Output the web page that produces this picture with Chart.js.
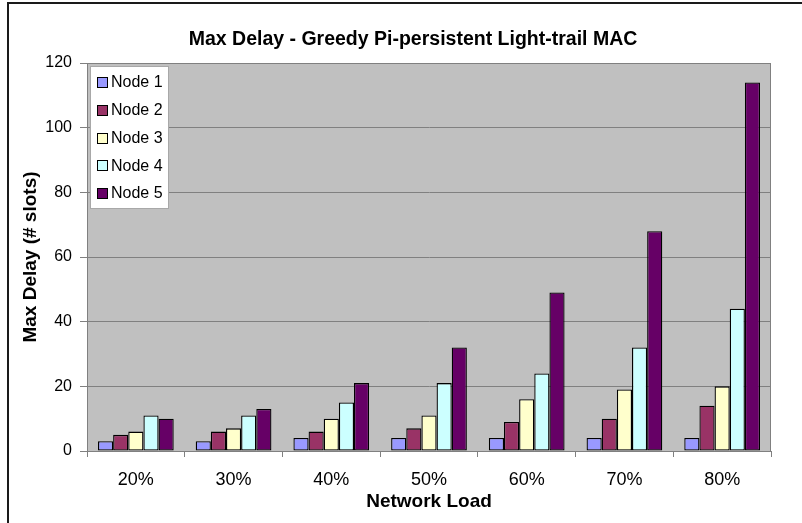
<!DOCTYPE html>
<html>
<head>
<meta charset="utf-8">
<title>Max Delay - Greedy Pi-persistent Light-trail MAC</title>
<script src="https://cdn.jsdelivr.net/npm/chart.js@4/dist/chart.umd.min.js"></script>
<style>
  html, body { margin: 0; padding: 0; background: #ffffff; }
  #wrap { position: relative; width: 802px; height: 523px; }
</style>
</head>
<body>
<div id="wrap"><canvas id="chart" width="802" height="523"></canvas></div>
<script>
// Network load levels on the x axis
const loads = ['20%', '30%', '40%', '50%', '60%', '70%', '80%'];

// Max delay (# slots) per node at each load
const node1 = [3, 3, 4, 4, 4, 4, 4];
const node2 = [5, 6, 6, 7, 9, 10, 14];
const node3 = [6, 7, 10, 11, 16, 19, 20];
const node4 = [11, 11, 15, 21, 24, 32, 44];
const node5 = [10, 13, 21, 32, 49, 68, 114];

const seriesNames = ['Node 1', 'Node 2', 'Node 3', 'Node 4', 'Node 5'];
const seriesColors = ['#9999FF', '#993366', '#FFFFCC', '#CCFFFF', '#660066'];
const yTicks = [0, 20, 40, 60, 80, 100, 120];

const chartTitle = 'Max Delay - Greedy Pi-persistent Light-trail MAC';
const xTitle = 'Network Load';
const yTitle = 'Max Delay (# slots)';

const FONT = "'Liberation Sans', Arial, sans-serif";

// Page frame, grey plot area and the chart title
const framePlugin = {
  id: 'frame',
  beforeDraw(chart) {
    const { ctx, chartArea: a } = chart;
    ctx.save();
    ctx.fillStyle = '#C0C0C0';
    ctx.fillRect(a.left, a.top, a.right - a.left, a.bottom - a.top);
    ctx.strokeStyle = '#808080';
    ctx.lineWidth = 1;
    ctx.strokeRect(a.left + 0.5, a.top + 0.5, a.right - a.left - 1, a.bottom - a.top);
    // outer frame (top and left edges)
    ctx.strokeStyle = '#1a1a1a';
    ctx.lineWidth = 2;
    ctx.beginPath();
    ctx.moveTo(8, 523);
    ctx.lineTo(8, 3);
    ctx.lineTo(802, 3);
    ctx.stroke();
    // title
    ctx.fillStyle = '#000';
    ctx.font = 'bold 19.5px ' + FONT;
    ctx.textAlign = 'center';
    ctx.textBaseline = 'middle';
    ctx.fillText(chartTitle, 413, 40);
    ctx.restore();
  }
};

// Legend box drawn inside the plot area, upper left
const boxLegendPlugin = {
  id: 'boxLegend',
  afterDatasetsDraw(chart) {
    const { ctx } = chart;
    const x0 = 90, y0 = 66, w = 79, h = 143;
    ctx.save();
    ctx.fillStyle = '#ffffff';
    ctx.fillRect(x0, y0, w, h);
    ctx.strokeStyle = '#a8a8a8';
    ctx.lineWidth = 1;
    ctx.strokeRect(x0 + 0.5, y0 + 0.5, w - 1, h - 1);
    ctx.font = '16px ' + FONT;
    ctx.textAlign = 'left';
    ctx.textBaseline = 'middle';
    chart.data.datasets.forEach((ds, i) => {
      const cy = 82 + i * 27.75;
      ctx.fillStyle = ds.backgroundColor;
      ctx.fillRect(97, Math.round(cy - 5), 11, 11);
      ctx.strokeStyle = '#000';
      ctx.strokeRect(97.5, Math.round(cy - 5) + 0.5, 10, 10);
      ctx.fillStyle = '#000';
      ctx.fillText(ds.label, 111, cy + 1);
    });
    ctx.restore();
  }
};

const seriesData = [node1, node2, node3, node4, node5];

new Chart(document.getElementById('chart'), {
  type: 'bar',
  data: {
    labels: loads,
    datasets: seriesNames.map((name, i) => ({
      label: name,
      data: seriesData[i],
      backgroundColor: seriesColors[i],
      borderColor: '#000000',
      borderWidth: 1.3,
      borderSkipped: false,
      categoryPercentage: 0.775,
      barPercentage: 1.0
    }))
  },
  options: {
    responsive: false,
    animation: false,
    devicePixelRatio: 1,
    layout: { padding: { top: 63, right: 31, left: 0, bottom: 0 } },
    plugins: {
      legend: { display: false },
      title: { display: false },
      tooltip: { enabled: false }
    },
    scales: {
      x: {
        afterFit(scale) { scale.height = 72; },
        grid: {
          display: true,
          drawOnChartArea: false,
          drawTicks: true,
          tickLength: 6,
          color: '#808080',
          offset: true
        },
        border: { display: true, color: '#808080' },
        ticks: {
          color: '#000',
          font: { family: FONT, size: 18 },
          padding: 12,
          maxRotation: 0
        },
        title: {
          display: true,
          text: xTitle,
          color: '#000',
          font: { family: FONT, size: 19, weight: 'bold' },
          padding: { top: 0, bottom: 10 }
        }
      },
      y: {
        min: 0,
        max: 120,
        afterFit(scale) { scale.width = 87; },
        afterBuildTicks(scale) { scale.ticks = yTicks.map(v => ({ value: v })); },
        grid: {
          color: '#808080',
          drawTicks: true,
          tickLength: 7,
          tickColor: '#808080'
        },
        border: { display: true, color: '#808080' },
        ticks: {
          color: '#000',
          font: { family: FONT, size: 16 },
          padding: 8
        },
        title: {
          display: true,
          text: yTitle,
          color: '#000',
          font: { family: FONT, size: 19, weight: 'bold' },
          padding: { top: 19, bottom: 0 }
        }
      }
    }
  },
  plugins: [framePlugin, boxLegendPlugin]
});
</script>
</body>
</html>
